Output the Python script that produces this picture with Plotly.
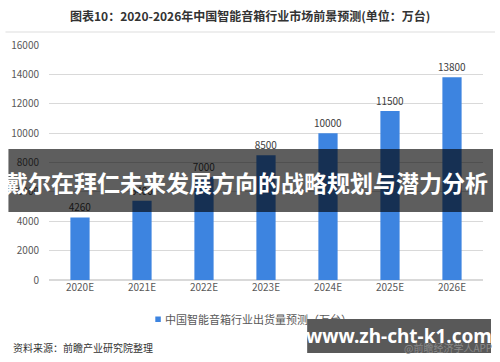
import plotly.graph_objects as go

years = ["2020E", "2021E", "2022E", "2023E", "2024E", "2025E", "2026E"]
shipments = [4260, 5400, 7000, 8500, 10000, 11500, 13800]
y_ticks = [0, 2000, 4000, 6000, 8000, 10000, 12000, 14000, 16000]
y_tick_labels = ["0", "2000", "4000", "6000", "8000", "10000", "12000", "14000", "16000"]

W, H = 500, 362
L, R, T, B = 48.6, 17, 45, 82
PW, PH = W - L - R, H - T - B


def px(x):
    return (x - L) / PW


def py(y):
    return (H - B - y) / PH


FONT = "Noto Sans CJK SC"
BLUE = "#3d84e0"

fig = go.Figure()
fig.add_trace(go.Bar(
    x=years, y=shipments, marker=dict(color=BLUE, line=dict(width=0)),
    text=[str(v) for v in shipments], textposition="outside",
    textfont=dict(size=10, color="#404040", family=FONT),
    constraintext="none",
    cliponaxis=False, showlegend=False,
))

shapes = [
    dict(type="line", xref="paper", yref="paper", x0=px(5), x1=px(495), y0=py(32), y1=py(32),
         line=dict(color="#dddddd", width=1)),
    dict(type="rect", xref="paper", yref="paper", x0=px(155), x1=px(160.5), y0=py(322), y1=py(316.5),
         fillcolor=BLUE, line=dict(width=0)),
    dict(type="rect", xref="paper", yref="paper", x0=px(8), x1=px(493), y0=py(212), y1=py(149),
         fillcolor="rgba(0,0,0,0.63)", line=dict(width=0), layer="above"),
    dict(type="rect", xref="paper", yref="paper", x0=px(307), x1=px(491), y0=py(353), y1=py(319),
         fillcolor="rgba(0,0,0,0.65)", line=dict(width=0), layer="above"),
]

annotations = [
    dict(text="<b>图表10：2020-2026年中国智能音箱行业市场前景预测(单位：万台)</b>",
         x=px(250), y=py(15), xref="paper", yref="paper", showarrow=False,
         font=dict(size=12, color="#333333", family=FONT), xanchor="center", yanchor="middle"),
    dict(text="中国智能音箱行业出货量预测（万台）", x=px(163), y=py(319), xref="paper", yref="paper",
         showarrow=False, font=dict(size=11, color="#595959", family=FONT),
         xanchor="left", yanchor="middle"),
    dict(text="资料来源：前瞻产业研究院整理", x=px(11), y=py(347), xref="paper", yref="paper",
         showarrow=False, font=dict(size=10, color="#333333", family=FONT),
         xanchor="left", yanchor="middle"),
    dict(text="@前瞻经济学人APP", x=px(494), y=py(347), xref="paper", yref="paper",
         showarrow=False, font=dict(size=10, color="#8a8a8a", family=FONT),
         xanchor="right", yanchor="middle"),
    dict(text="<b>戴尔在拜仁未来发展方向的战略规划与潜力分析</b>", x=px(246), y=py(182),
         xref="paper", yref="paper", showarrow=False,
         font=dict(size=23, color="#ffffff", family=FONT), xanchor="center", yanchor="middle"),
    dict(text="<b>www.zh-cht-k1.com</b>", x=px(399), y=py(336), xref="paper", yref="paper",
         showarrow=False, font=dict(size=19, color="#ffffff", family="Noto Sans"),
         xanchor="center", yanchor="middle"),
]

fig.update_layout(
    width=W, height=H, margin=dict(l=L, r=R, t=T, b=B),
    paper_bgcolor="white", plot_bgcolor="white",
    bargap=0.69, showlegend=False,
    shapes=shapes, annotations=annotations,
    font=dict(family=FONT),
    xaxis=dict(showgrid=False, showline=False, ticks="",
               tickfont=dict(size=10, color="#595959", family=FONT)),
    yaxis=dict(range=[0, 16000], tickvals=y_ticks, ticktext=y_tick_labels,
               showgrid=True, gridcolor="#d9d9d9",
               gridwidth=1, zeroline=True, zerolinecolor="#d9d9d9", showline=False, ticks="",
               ticklabelstandoff=9,
               tickfont=dict(size=10, color="#595959", family=FONT)),
)

fig.write_html("out.html")
